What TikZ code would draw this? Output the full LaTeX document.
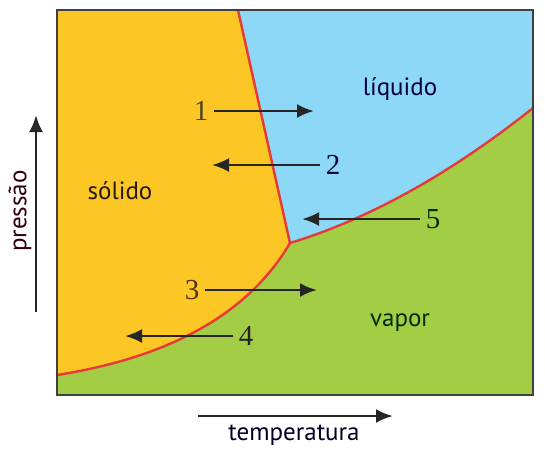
\documentclass[tikz,border=0pt]{standalone}
\usepackage{fontspec}
\setmainfont{Liberation Serif}
\setsansfont{PT Sans}
\usepackage{xcolor}
\usetikzlibrary{arrows.meta,positioning}
\definecolor{solidfill}{HTML}{FCC624}
\definecolor{liquidfill}{HTML}{8ED8F7}
\definecolor{vaporfill}{HTML}{A3CD45}
\definecolor{curvered}{HTML}{E5393A}
\definecolor{framegray}{HTML}{404040}
\begin{document}
\begin{tikzpicture}[x=0.5pt, y=-0.5pt, font=\sffamily\fontsize{12.5}{14}\selectfont,
    num/.style={font=\rmfamily\fontsize{14.5}{16}\selectfont, inner sep=2.5pt},
    move/.style={-{Latex[length=8.5pt,width=7pt]}, line width=1.3pt, black!85},
    coexist/.style={curvered, line width=1.2pt}]
        \useasboundingbox (0,0) rectangle (545,457);
        % corners and points of the diagram
        \coordinate (tl) at (57,10); \coordinate (tr) at (533,10);
        \coordinate (br) at (533,395); \coordinate (bl) at (57,395);
        \coordinate (triple) at (290,243); \coordinate (melt) at (238,10);
        \coordinate (boil) at (533,108); \coordinate (subl) at (57,375);
        % phases
        \fill[solidfill] (tl) -- (melt) -- (triple) .. controls (249,313) and (171,357) .. (subl) -- cycle;
        \fill[liquidfill] (melt) -- (tr) -- (boil) .. controls (450,174) and (369,219) .. (triple) -- cycle;
        \fill[vaporfill] (subl) .. controls (171,357) and (249,313) .. (triple) .. controls (369,219) and (450,174) .. (boil) -- (br) -- (bl) -- cycle;
        \draw[coexist] (melt) -- (triple);
        \draw[coexist] (subl) .. controls (171,357) and (249,313) .. (triple) .. controls (369,219) and (450,174) .. (boil);
        \draw[framegray, line width=0.9pt] (tl) rectangle (br);
        \node[text=black!80!brown] (solido) at (120,191) {sólido};
        \node[text=blue!25!black] (liquido) at (400,89) {líquido};
        \node[text=black!82!green] (vapor) at (400,323) {vapor};
        % numbered changes
        \foreach \n/\x/\y/\tip/\from/\col in {1/201/111/314/east/olive!35!black, 3/192/290/317/east/brown!40!black}{
            \node[num, text=\col] (n\n) at (\x,\y) {\n};
            \coordinate (t\n) at (\tip,\y);
            \draw[move] (n\n.\from) -- (t\n);}
        \foreach \n/\x/\y/\tip/\from/\col in {2/333/165/212/west/blue!20!black, 4/246/336/125/west/black!85, 5/433/219/302/west/green!18!black}{
            \node[num, text=\col] (n\n) at (\x,\y) {\n};
            \coordinate (t\n) at (\tip,\y);
            \draw[move] (n\n.\from) -- (t\n);}
        % axes
        \coordinate (pbase) at (36,312); \coordinate (ptop) at (36,115);
        \coordinate (tbase) at (198,416); \coordinate (ttop) at (393,416);
        \draw[move] (pbase) -- (ptop);
        \draw[move] (tbase) -- (ttop);
        \node[rotate=90, text=violet!20!red!20!black] (pressao) at (20,211) {pressão};
        \node[text=black!85!blue] (temperatura) at (294,435) {temperatura};
\end{tikzpicture}
\end{document}
